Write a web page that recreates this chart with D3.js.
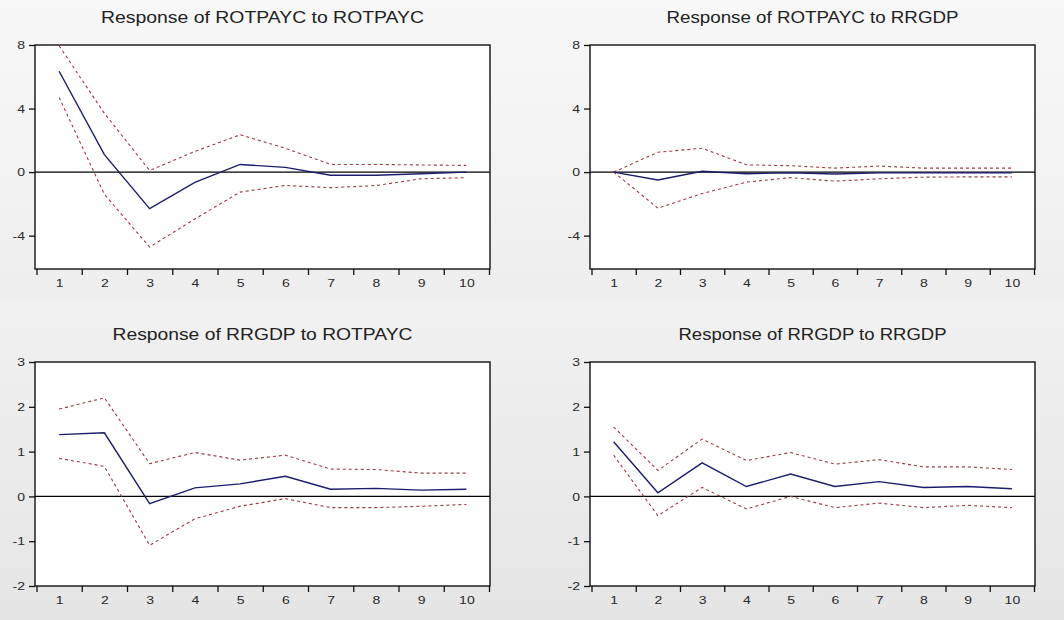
<!DOCTYPE html>
<html>
<head>
<meta charset="utf-8">
<script src="https://cdn.jsdelivr.net/npm/d3@7"></script>
<style>
  html, body { margin: 0; padding: 0; background: #efefef; }
  svg { display: block; }
</style>
</head>
<body>
<svg id="chart" width="1064" height="620"></svg>
<script>
// Impulse response horizon
const periods = [1, 2, 3, 4, 5, 6, 7, 8, 9, 10];

// Panel titles
const titles = [
  "Response of ROTPAYC to ROTPAYC",
  "Response of ROTPAYC to RRGDP",
  "Response of RRGDP to ROTPAYC",
  "Response of RRGDP to RRGDP"
];

// Y tick labels for each row
const yTicksTop = [-4, 0, 4, 8];
const yTicksBottom = [-2, -1, 0, 1, 2, 3];

// Response of ROTPAYC to ROTPAYC
const rotRotResp  = [6.35, 1.1, -2.3, -0.65, 0.48, 0.3, -0.2, -0.2, -0.1, 0.0];
const rotRotUpper = [7.95, 3.7, 0.1, 1.3, 2.35, 1.5, 0.48, 0.48, 0.45, 0.42];
const rotRotLower = [4.7, -1.4, -4.72, -2.95, -1.26, -0.84, -0.98, -0.85, -0.42, -0.35];

// Response of ROTPAYC to RRGDP
const rotGdpResp  = [0, -0.5, 0.05, -0.1, -0.05, -0.12, -0.05, -0.05, -0.05, -0.05];
const rotGdpUpper = [0, 1.25, 1.5, 0.46, 0.4, 0.25, 0.38, 0.25, 0.25, 0.25];
const rotGdpLower = [0, -2.27, -1.35, -0.63, -0.35, -0.57, -0.42, -0.32, -0.3, -0.3];

// Response of RRGDP to ROTPAYC
const gdpRotResp  = [1.38, 1.42, -0.16, 0.19, 0.28, 0.45, 0.16, 0.18, 0.14, 0.16];
const gdpRotUpper = [1.95, 2.2, 0.73, 0.98, 0.81, 0.92, 0.61, 0.6, 0.52, 0.52];
const gdpRotLower = [0.85, 0.67, -1.09, -0.5, -0.22, -0.05, -0.25, -0.25, -0.22, -0.18];

// Response of RRGDP to RRGDP
const gdpGdpResp  = [1.22, 0.08, 0.75, 0.22, 0.5, 0.22, 0.33, 0.2, 0.22, 0.17];
const gdpGdpUpper = [1.55, 0.58, 1.28, 0.8, 0.98, 0.72, 0.82, 0.66, 0.66, 0.6];
const gdpGdpLower = [0.92, -0.43, 0.2, -0.28, 0.0, -0.25, -0.15, -0.25, -0.2, -0.25];

const panels = [
  { title: titles[0], resp: rotRotResp, upper: rotRotUpper, lower: rotRotLower,
    yDomain: [-6.1, 8], yTicks: yTicksTop, x0: 35, x1: 490, y0: 45, y1: 269, titleW: 323 },
  { title: titles[1], resp: rotGdpResp, upper: rotGdpUpper, lower: rotGdpLower,
    yDomain: [-6.1, 8], yTicks: yTicksTop, x0: 590, x1: 1035, y0: 45, y1: 269, titleW: 292 },
  { title: titles[2], resp: gdpRotResp, upper: gdpRotUpper, lower: gdpRotLower,
    yDomain: [-2, 3], yTicks: yTicksBottom, x0: 35, x1: 490, y0: 362, y1: 586, titleW: 300 },
  { title: titles[3], resp: gdpGdpResp, upper: gdpGdpUpper, lower: gdpGdpLower,
    yDomain: [-2, 3], yTicks: yTicksBottom, x0: 590, x1: 1035, y0: 362, y1: 586, titleW: 268 }
];

const FONT = "Liberation Sans, Arial, sans-serif";
const STRETCH = 1.22;
const plainInt = d => String(d);   // hyphen-minus, as printed on the axes

const svg = d3.select("#chart");
const defs = svg.append("defs");

// soft grey backdrop, one gradient per row
[["bgTop", "#f8f8f8", "#eeeeee", 0, 300], ["bgBottom", "#f1f1f1", "#e5e5e5", 300, 320]].forEach(([id, c0, c1, yy, h]) => {
  const gr = defs.append("linearGradient").attr("id", id)
    .attr("x1", 0).attr("y1", 0).attr("x2", 0).attr("y2", 1);
  gr.append("stop").attr("offset", "0%").attr("stop-color", c0);
  gr.append("stop").attr("offset", "100%").attr("stop-color", c1);
  svg.append("rect").attr("x", 0).attr("y", yy).attr("width", 1064).attr("height", h)
    .attr("fill", `url(#${id})`);
});

panels.forEach(p => {
  const x = d3.scaleLinear().domain([0.5, 10.5]).range([p.x0 + 1.5, p.x1 - 1]);
  const y = d3.scaleLinear().domain(p.yDomain).range([p.y1, p.y0]);
  const g = svg.append("g");

  // plot area
  g.append("rect")
    .attr("x", p.x0).attr("y", p.y0)
    .attr("width", p.x1 - p.x0).attr("height", p.y1 - p.y0)
    .attr("fill", "#ffffff");

  // title
  g.append("text")
    .attr("x", (p.x0 + p.x1) / 2)
    .attr("y", p.y0 - 22)
    .attr("text-anchor", "middle")
    .attr("font-family", FONT)
    .attr("font-size", 16)
    .attr("fill", "#222")
    .attr("textLength", p.titleW)
    .attr("lengthAdjust", "spacingAndGlyphs")
    .text(p.title);

  // x tick marks on period boundaries
  g.append("g")
    .attr("transform", `translate(0,${p.y1})`)
    .call(d3.axisBottom(x)
      .tickValues(d3.range(0.5, 11, 1))
      .tickFormat("")
      .tickSize(6)
      .tickSizeOuter(0))
    .call(s => s.select(".domain").remove())
    .call(s => s.selectAll("line").attr("stroke", "#111").attr("stroke-width", 1.3));

  // x labels centred in each period
  g.append("g")
    .attr("transform", `translate(0,${p.y1})`)
    .call(d3.axisBottom(x)
      .tickValues(periods)
      .tickFormat(plainInt)
      .tickSize(0)
      .tickPadding(10))
    .call(s => s.select(".domain").remove())
    .call(s => s.selectAll("text")
      .attr("font-size", 11.5)
      .attr("font-family", FONT)
      .attr("fill", "#2a2a2a")
      .attr("transform", `scale(${STRETCH},1)`));

  // y axis
  g.append("g")
    .attr("transform", `translate(${p.x0},0)`)
    .call(d3.axisLeft(y)
      .tickValues(p.yTicks)
      .tickFormat(plainInt)
      .tickSize(6)
      .tickPadding(4)
      .tickSizeOuter(0))
    .call(s => s.select(".domain").remove())
    .call(s => s.selectAll("line").attr("stroke", "#111").attr("stroke-width", 1.3))
    .call(s => s.selectAll("text")
      .attr("font-size", 11.5)
      .attr("font-family", FONT)
      .attr("fill", "#2a2a2a")
      .attr("x", -10 / STRETCH)
      .attr("transform", `scale(${STRETCH},1)`));

  // zero reference line
  g.append("line")
    .attr("x1", p.x0).attr("x2", p.x1)
    .attr("y1", y(0)).attr("y2", y(0))
    .attr("stroke", "#000").attr("stroke-width", 1.2);

  const line = d3.line().x((d, i) => x(periods[i])).y(d => y(d));

  // confidence bands
  [p.upper, p.lower].forEach(band => {
    g.append("path")
      .datum(band)
      .attr("d", line)
      .attr("fill", "none")
      .attr("stroke", "#9a3a44")
      .attr("stroke-width", 1.1)
      .attr("stroke-dasharray", "3,3");
  });

  // impulse response
  g.append("path")
    .datum(p.resp)
    .attr("d", line)
    .attr("fill", "none")
    .attr("stroke", "#1c1c6e")
    .attr("stroke-width", 1.4);

  // frame
  g.append("rect")
    .attr("x", p.x0).attr("y", p.y0)
    .attr("width", p.x1 - p.x0).attr("height", p.y1 - p.y0)
    .attr("fill", "none")
    .attr("stroke", "#111")
    .attr("stroke-width", 1.4);
});
</script>
</body>
</html>
